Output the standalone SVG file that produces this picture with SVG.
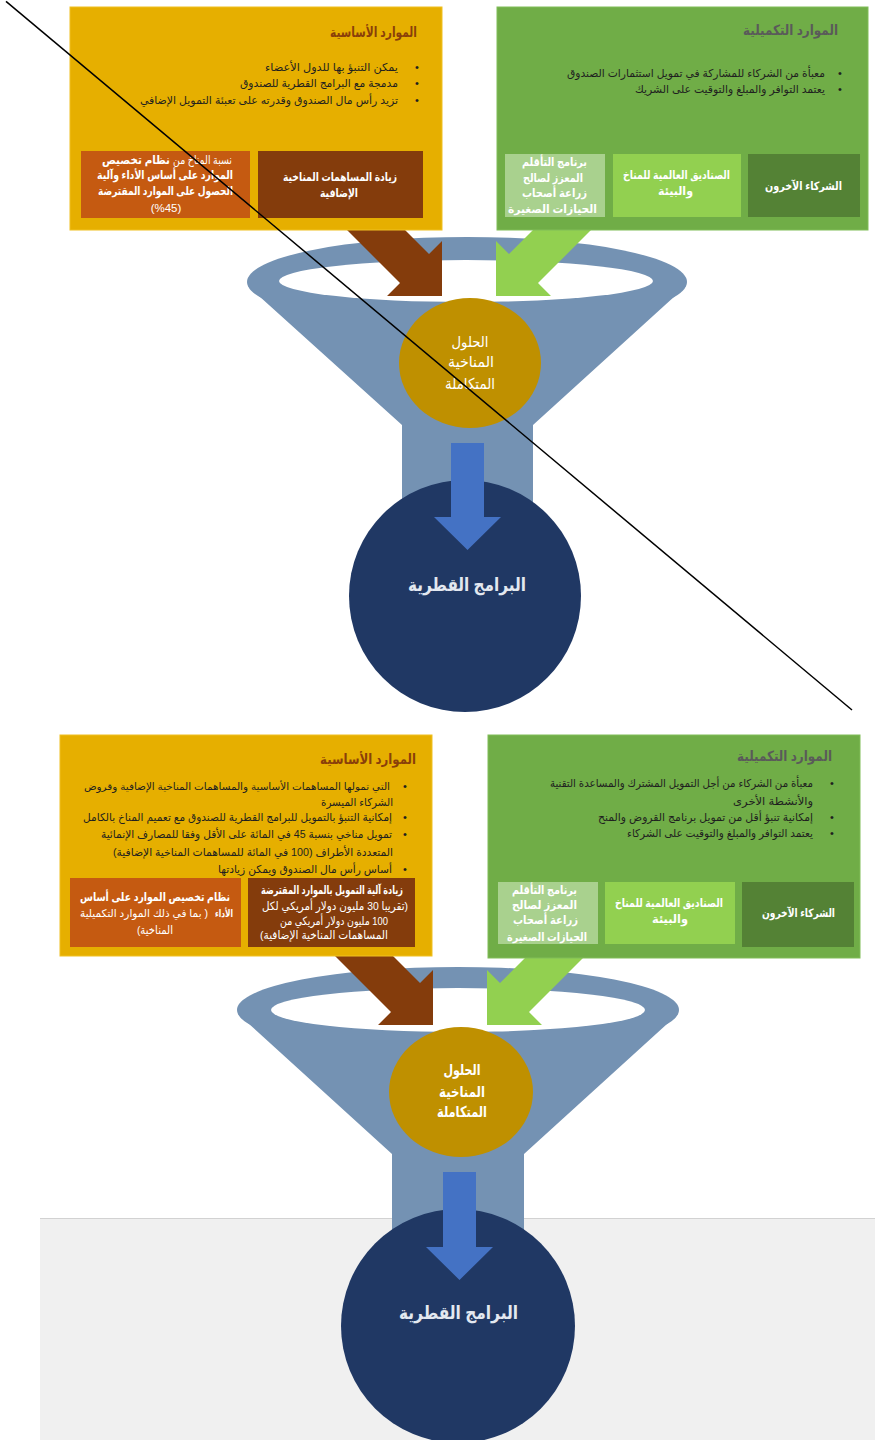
<svg xmlns="http://www.w3.org/2000/svg" width="875" height="1440" viewBox="0 0 875 1440">
<style>
.t{font-family:"Liberation Sans","DejaVu Sans",sans-serif;direction:rtl;text-anchor:middle;}
.b{font-size:11px;fill:#1f1f1f;}
.h1{font-size:14px;font-weight:bold;fill:#8a3f0a;}
.h2{font-size:14px;font-weight:bold;fill:#5a5a5a;}
.w{font-size:11.5px;fill:#fff;font-weight:bold;}
.wn{font-weight:normal;}
.dot{font-family:"Liberation Sans",sans-serif;font-size:11px;fill:#1f1f1f;text-anchor:middle;}
.c{font-size:15px;fill:#fff;}
.n{font-size:18px;font-weight:bold;fill:#e3e8f0;}
.funnel{fill:#7492b3;}
.hole{fill:#fff;}
.gold{fill:#bf9000;}
.navy{fill:#203864;}
.yel{fill:#e6af00;stroke:#f0c020;stroke-width:1;}
.grn{fill:#70ad47;stroke:#80bd58;stroke-width:1;}
.or{fill:#c55a11;}
.br{fill:#843c0c;}
.pale{fill:#a9d18e;}
.lime{fill:#92d050;}
.dk{fill:#548235;}
.abr{fill:#843c0c;}
.agr{fill:#92d050;}
.abl{fill:#4472c4;}
</style>
<rect x="0" y="0" width="875" height="1440" fill="#fff"/>
<g id="bottom-panel">
<rect x="40" y="1218" width="835" height="222" fill="#f0f0f0"/>
<line x1="40" y1="1218.5" x2="875" y2="1218.5" stroke="#d2d2d2" stroke-width="1"/>
</g>

<!-- TOP SECTION -->
<g id="funnel-top">
<ellipse class="funnel" cx="467" cy="282" rx="220" ry="45"/>
<path class="funnel" d="M248 286 L402 425 L402 530 L533 530 L533 425 L686 286 Z"/>
<ellipse class="hole" cx="466" cy="281" rx="187" ry="21"/>
</g>
<g id="solutions-top">
<ellipse class="gold" cx="470" cy="363" rx="71" ry="65"/>
<text class="t c" x="470" y="347" textLength="37" lengthAdjust="spacingAndGlyphs">الحلول</text>
<text class="t c" x="471" y="367" textLength="46" lengthAdjust="spacingAndGlyphs">المناخية</text>
<text class="t c" x="470" y="389" textLength="50" lengthAdjust="spacingAndGlyphs">المتكاملة</text>
</g>
<g id="country-top">
<circle class="navy" cx="465" cy="596" r="116"/>
<text class="t n" x="467" y="591" textLength="118" lengthAdjust="spacingAndGlyphs">البرامج القطرية</text>
</g>

<!-- BOTTOM SECTION -->
<g id="funnel-bottom">
<ellipse class="funnel" cx="458" cy="1010" rx="221" ry="43"/>
<path class="funnel" d="M238 1014 L392 1154 L392 1260 L524 1260 L524 1154 L678 1014 Z"/>
<ellipse class="hole" cx="458" cy="1010" rx="187" ry="22"/>
</g>
<g id="solutions-bottom">
<ellipse class="gold" cx="461" cy="1092" rx="72" ry="65"/>
<text class="t c" x="462" y="1075" font-weight="bold" textLength="37" lengthAdjust="spacingAndGlyphs">الحلول</text>
<text class="t c" x="462" y="1097" font-weight="bold" textLength="46" lengthAdjust="spacingAndGlyphs">المناخية</text>
<text class="t c" x="462" y="1117" font-weight="bold" textLength="50" lengthAdjust="spacingAndGlyphs">المتكاملة</text>
</g>
<g id="country-bottom">
<circle class="navy" cx="458" cy="1326" r="117"/>
<text class="t n" x="458.5" y="1319" textLength="119" lengthAdjust="spacingAndGlyphs">البرامج القطرية</text>
</g>

<g id="connectors">
<polygon class="abr" points="369,194 429,254 442,241 442,296 387,296 400,283 340,223"/>
<polygon class="agr" points="569,194 509,254 496,241 496,296 551,296 538,283 598,223"/>
<polygon class="abl" points="451,443 484,443 484,517 501,517 467.5,550 434,517 451,517"/>
<polygon class="abr" points="360,923 420,983 433,970 433,1025 378,1025 391,1012 331,952"/>
<polygon class="agr" points="560,923 500,983 487,970 487,1025 542,1025 529,1012 589,952"/>
<polygon class="abl" points="443,1172 476,1172 476,1247 493,1247 459.5,1280 426,1247 443,1247"/>
</g>

<!-- top boxes -->
<g id="core-top">
<rect class="yel" x="70" y="7" width="372" height="223"/>
<text class="t h1" x="373.5" y="37" textLength="87" lengthAdjust="spacingAndGlyphs">الموارد الأساسية</text>
<text class="dot" x="417" y="71">•</text>
<text class="t b" x="331.5" y="71" textLength="133" lengthAdjust="spacingAndGlyphs">يمكن التنبؤ بها للدول الأعضاء</text>
<text class="dot" x="417" y="87">•</text>
<text class="t b" x="319" y="87" textLength="158" lengthAdjust="spacingAndGlyphs">مدمجة مع البرامج القطرية للصندوق</text>
<text class="dot" x="417" y="104">•</text>
<text class="t b" x="269" y="104" textLength="258" lengthAdjust="spacingAndGlyphs">تزيد رأس مال الصندوق وقدرته على تعبئة التمويل الإضافي</text>
</g>
<g id="pbas-top">
<rect class="or" x="81" y="151" width="169" height="67"/>
<text class="t w wn" x="202.5" y="164" fill="#f6d2b8" textLength="59" lengthAdjust="spacingAndGlyphs">نسبة المناخ من</text>
<text class="t w" x="136" y="164" textLength="68" lengthAdjust="spacingAndGlyphs">نظام تخصيص</text>
<text class="t w" x="165" y="179" textLength="136" lengthAdjust="spacingAndGlyphs">الموارد على أساس الأداء وآلية</text>
<text class="t w" x="165.5" y="195" textLength="135" lengthAdjust="spacingAndGlyphs">الحصول على الموارد المقترضة</text>
<text class="t w wn" x="166" y="212" style="direction:ltr">(%45)</text>
</g>
<g id="extra-top">
<rect class="br" x="258" y="151" width="165" height="67"/>
<text class="t w" x="340" y="181" textLength="114" lengthAdjust="spacingAndGlyphs">زيادة المساهمات المناخية</text>
<text class="t w" x="339" y="197" textLength="38" lengthAdjust="spacingAndGlyphs">الإضافية</text>
</g>
<g id="supp-top">
<rect class="grn" x="497" y="7" width="371" height="223"/>
<text class="t h2" x="790.5" y="35" textLength="95" lengthAdjust="spacingAndGlyphs">الموارد التكميلية</text>
<text class="dot" x="840" y="76.5">•</text>
<text class="t b" x="696" y="76.5" textLength="258" lengthAdjust="spacingAndGlyphs">معبأة من الشركاء للمشاركة في تمويل استثمارات الصندوق</text>
<text class="dot" x="840" y="92.5">•</text>
<text class="t b" x="730" y="92.5" textLength="190" lengthAdjust="spacingAndGlyphs">يعتمد التوافر والمبلغ والتوقيت على الشريك</text>
</g>
<g id="asap-top">
<rect class="pale" x="505" y="154" width="100" height="63"/>
<text class="t w" x="554.5" y="166" textLength="65" lengthAdjust="spacingAndGlyphs">برنامج التأقلم</text>
<text class="t w" x="553" y="182" textLength="60" lengthAdjust="spacingAndGlyphs">المعزز لصالح</text>
<text class="t w" x="554.5" y="197" textLength="65" lengthAdjust="spacingAndGlyphs">زراعة أصحاب</text>
<text class="t w" x="552.5" y="213" textLength="89" lengthAdjust="spacingAndGlyphs">الحيازات الصغيرة</text>
</g>
<g id="gf-top">
<rect class="lime" x="613" y="154" width="128" height="63"/>
<text class="t w" x="676.5" y="179" textLength="107" lengthAdjust="spacingAndGlyphs">الصناديق العالمية للمناخ</text>
<text class="t w" x="675.5" y="195" textLength="35" lengthAdjust="spacingAndGlyphs">والبيئة</text>
</g>
<g id="other-top">
<rect class="dk" x="748" y="154" width="112" height="63"/>
<text class="t w" x="803.5" y="190" textLength="77" lengthAdjust="spacingAndGlyphs">الشركاء الآخرون</text>
</g>

<!-- bottom boxes -->
<g id="core-bottom">
<rect class="yel" x="60" y="735" width="372" height="221"/>
<text class="t h1" x="368" y="764" textLength="96" lengthAdjust="spacingAndGlyphs">الموارد الأساسية</text>
<text class="dot" x="405" y="790">•</text>
<text class="t b" x="237" y="790" style="font-size:10px" textLength="306" lengthAdjust="spacingAndGlyphs">التي تمولها المساهمات الأساسية والمساهمات المناخية الإضافية وقروض</text>
<text class="t b" x="357" y="806" textLength="72" lengthAdjust="spacingAndGlyphs">الشركاء الميسرة</text>
<text class="dot" x="405" y="821">•</text>
<text class="t b" x="237.5" y="821" textLength="309" lengthAdjust="spacingAndGlyphs">إمكانية التنبؤ بالتمويل للبرامج القطرية للصندوق مع تعميم المناخ بالكامل</text>
<text class="dot" x="405" y="838">•</text>
<text class="t b" x="246.5" y="838" textLength="291" lengthAdjust="spacingAndGlyphs">تمويل مناخي بنسبة 45 في المائة على الأقل وفقا للمصارف الإنمائية</text>
<text class="t b" x="253" y="856" textLength="280" lengthAdjust="spacingAndGlyphs">المتعددة الأطراف (100 في المائة للمساهمات المناخية الإضافية)</text>
<text class="dot" x="405" y="873">•</text>
<text class="t b" x="305" y="873" textLength="174" lengthAdjust="spacingAndGlyphs">أساس رأس مال الصندوق ويمكن زيادتها</text>
</g>
<g id="pbas-bottom">
<rect class="or" x="70" y="878" width="171" height="69"/>
<text class="t w" x="155" y="901" textLength="150" lengthAdjust="spacingAndGlyphs">نظام تخصيص الموارد على أساس</text>
<text class="t w" x="224" y="917" style="font-size:10px" textLength="18" lengthAdjust="spacingAndGlyphs">الأداء</text>
<text class="t w wn" x="144" y="917" style="font-size:10.5px" textLength="128" lengthAdjust="spacingAndGlyphs">( بما في ذلك الموارد التكميلية</text>
<text class="t w wn" x="155" y="934" textLength="36" lengthAdjust="spacingAndGlyphs">المناخية)</text>
</g>
<g id="borrow-bottom">
<rect class="br" x="248" y="878" width="167" height="69"/>
<text class="t w" x="332" y="894" textLength="142" lengthAdjust="spacingAndGlyphs">زيادة آلية التمويل بالموارد المقترضة</text>
<text class="t w wn" x="335" y="910" textLength="146" lengthAdjust="spacingAndGlyphs">(تقريبا 30 مليون دولار أمريكي لكل</text>
<text class="t w wn" x="334" y="925" textLength="108" lengthAdjust="spacingAndGlyphs">100 مليون دولار أمريكي من</text>
<text class="t w wn" x="324" y="939" textLength="128" lengthAdjust="spacingAndGlyphs">المساهمات المناخية الإضافية)</text>
</g>
<g id="supp-bottom">
<rect class="grn" x="488" y="735" width="372" height="223"/>
<text class="t h2" x="784.5" y="761" textLength="95" lengthAdjust="spacingAndGlyphs">الموارد التكميلية</text>
<text class="dot" x="832" y="787">•</text>
<text class="t b" x="681.5" y="787" textLength="263" lengthAdjust="spacingAndGlyphs">معبأة من الشركاء من أجل التمويل المشترك والمساعدة التقنية</text>
<text class="t b" x="773" y="805" textLength="80" lengthAdjust="spacingAndGlyphs">والأنشطة الأخرى</text>
<text class="dot" x="832" y="821">•</text>
<text class="t b" x="705.5" y="821" textLength="215" lengthAdjust="spacingAndGlyphs">إمكانية تنبؤ أقل من تمويل برنامج القروض والمنح</text>
<text class="dot" x="832" y="837">•</text>
<text class="t b" x="720" y="837" textLength="186" lengthAdjust="spacingAndGlyphs">يعتمد التوافر والمبلغ والتوقيت على الشركاء</text>
</g>
<g id="asap-bottom">
<rect class="pale" x="498" y="882" width="100" height="62"/>
<text class="t w" x="544.5" y="894" textLength="65" lengthAdjust="spacingAndGlyphs">برنامج التأقلم</text>
<text class="t w" x="544.5" y="909" textLength="65" lengthAdjust="spacingAndGlyphs">المعزز لصالح</text>
<text class="t w" x="545.5" y="924" textLength="65" lengthAdjust="spacingAndGlyphs">زراعة أصحاب</text>
<text class="t w" x="547" y="941" textLength="80" lengthAdjust="spacingAndGlyphs">الحيازات الصغيرة</text>
</g>
<g id="gf-bottom">
<rect class="lime" x="605" y="882" width="130" height="62"/>
<text class="t w" x="669" y="907" textLength="108" lengthAdjust="spacingAndGlyphs">الصناديق العالمية للمناخ</text>
<text class="t w" x="670" y="923" textLength="36" lengthAdjust="spacingAndGlyphs">والبيئة</text>
</g>
<g id="other-bottom">
<rect class="dk" x="742" y="882" width="112" height="65"/>
<text class="t w" x="798.5" y="917" textLength="73" lengthAdjust="spacingAndGlyphs">الشركاء الآخرون</text>
</g>

<g id="strike">
<line x1="6" y1="1.4" x2="852" y2="710" stroke="#000" stroke-width="1.5"/>
</g>
</svg>
